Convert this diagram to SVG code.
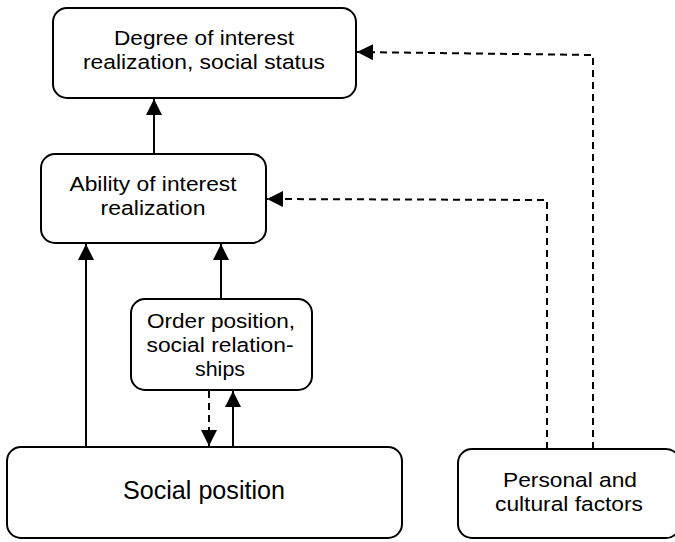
<svg xmlns="http://www.w3.org/2000/svg" width="675" height="542" viewBox="0 0 675 542">
<style>
.box{fill:#fff;stroke:#000;stroke-width:2}
.t{font-family:"Liberation Sans",Arial,sans-serif;font-size:20.5px;fill:#000;text-anchor:middle}
.big{font-size:25px}
.c{fill:none;stroke:#000;stroke-width:2}
.d{stroke-dasharray:7,5}
</style>
<defs>
<marker id="ah2" viewBox="0 0 10 10" refX="10" refY="5" markerWidth="16" markerHeight="16" markerUnits="userSpaceOnUse" orient="auto">
<path d="M0,0 L10,5 L0,10 Z" fill="#000"/>
</marker>
</defs>
<rect width="675" height="542" fill="#fff"/>
<g id="connectors">
<line class="c" x1="154" y1="154" x2="154" y2="99" marker-end="url(#ah2)"/>
<line class="c" x1="86" y1="447" x2="86" y2="244" marker-end="url(#ah2)"/>
<line class="c" x1="221" y1="299" x2="221" y2="244" marker-end="url(#ah2)"/>
<line class="c d" x1="209" y1="391" x2="209" y2="446" marker-end="url(#ah2)"/>
<line class="c" x1="233" y1="447" x2="233" y2="391" marker-end="url(#ah2)"/>
<polyline class="c d" points="547,449 547,200 267,199" marker-end="url(#ah2)"/>
<polyline class="c d" points="593,449 593,55 357,52" marker-end="url(#ah2)"/>
</g>
<g id="degree">
<rect class="box" x="53" y="8" width="303" height="90" rx="14"/>
<text class="t" x="204" y="45" textLength="180" lengthAdjust="spacingAndGlyphs">Degree of interest</text>
<text class="t" x="204" y="69" textLength="242" lengthAdjust="spacingAndGlyphs">realization, social status</text>
</g>
<g id="ability">
<rect class="box" x="41" y="154" width="225" height="89" rx="14"/>
<text class="t" x="153" y="191" textLength="167" lengthAdjust="spacingAndGlyphs">Ability of interest</text>
<text class="t" x="153" y="215" textLength="105" lengthAdjust="spacingAndGlyphs">realization</text>
</g>
<g id="order">
<rect class="box" x="131" y="299" width="181" height="91" rx="14"/>
<text class="t" x="221" y="328" textLength="148" lengthAdjust="spacingAndGlyphs">Order position,</text>
<text class="t" x="220" y="352" textLength="147" lengthAdjust="spacingAndGlyphs">social relation-</text>
<text class="t" x="220" y="376" textLength="50" lengthAdjust="spacingAndGlyphs">ships</text>
</g>
<g id="social">
<rect class="box" x="7" y="447" width="395" height="91" rx="14"/>
<text class="t big" x="204" y="499" textLength="162" lengthAdjust="spacingAndGlyphs">Social position</text>
</g>
<g id="personal">
<rect class="box" x="458" y="449" width="222" height="89" rx="14"/>
<text class="t" x="570" y="487" textLength="134" lengthAdjust="spacingAndGlyphs">Personal and</text>
<text class="t" x="569" y="511" textLength="148" lengthAdjust="spacingAndGlyphs">cultural factors</text>
</g>
</svg>
